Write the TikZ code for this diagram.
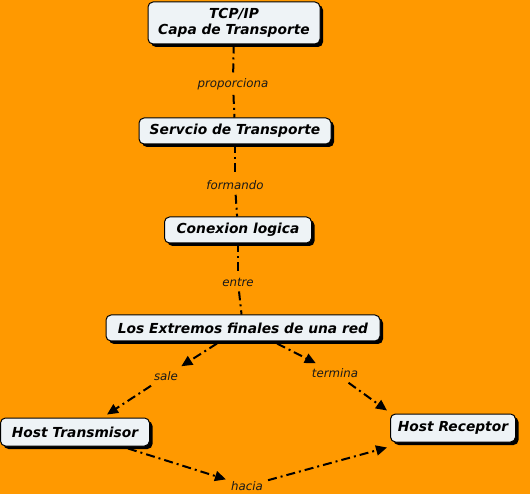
\documentclass[tikz,border=0pt]{standalone}
\usepackage{fontspec}
\setmainfont{DejaVu Sans}[BoldFont=* Bold, ItalicFont=* Oblique, BoldItalicFont=* Bold Oblique]
\usetikzlibrary{arrows.meta,shadows,calc}
\definecolor{bg}{HTML}{FF9900}
\definecolor{boxfill}{HTML}{EEF3F6}
\begin{document}
\begin{tikzpicture}[x=1pt,y=-1pt,
 concept/.style={draw=black, line width=1pt, rounded corners=5pt, fill=boxfill,
   font=\bfseries\itshape\fontsize{13.8}{16}\selectfont, inner sep=0pt, align=center,
   drop shadow={shadow xshift=3pt, shadow yshift=-3pt, fill=black, opacity=1}},
 lbl/.style={font=\itshape\fontsize{11.8}{14}\selectfont, text=black!90, inner sep=5pt},
 link/.style={line width=2pt, dash pattern=on 9pt off 4pt on 2pt off 4pt},
 arr/.style={link, -{Triangle[length=11pt,width=10pt]}}]
\fill[bg] (0,0) rectangle (530,494);
\node[concept, minimum width=172pt, minimum height=42pt] (tcp) at (234,23) {TCP/IP\\Capa de Transporte};
\node[concept, minimum width=192pt, minimum height=26pt] (st) at (235,131) {Servcio de Transporte};
\node[concept, minimum width=147pt, minimum height=26pt] (cl) at (238,230) {Conexion logica};
\node[concept, minimum width=274pt, minimum height=26pt] (le) at (243,328) {Los Extremos finales de una red};
\node[concept, minimum width=149pt, minimum height=28pt] (ht) at (75,432) {Host Transmisor};
\node[concept, minimum width=125pt, minimum height=28pt] (hr) at (453,428) {Host Receptor};
\node[lbl] (p1) at (233,84) {proporciona};
\node[lbl] (p2) at (235,185) {formando};
\node[lbl] (p3) at (238,282) {entre};
\node[lbl] (sale) at (166,376) {sale};
\node[lbl] (term) at (335,373) {termina};
\node[lbl] (hacia) at (247,486) {hacia};
\draw[link] (tcp) -- (p1);
\draw[link] (p1) -- (st);
\draw[link] (st) -- (p2);
\draw[link] (p2) -- (cl);
\draw[link] (cl) -- (p3);
\draw[link] (p3) -- (le);
\draw[arr] ($(le.south)+(-26,2)$) -- (sale);
\draw[arr] (sale) -- ($(ht.north)+(32,-3)$);
\draw[arr] ($(le.south)+(34,2)$) -- (term);
\draw[arr] (term) -- ($(hr.north west)+(-3,-3)$);
\draw[arr] ($(ht.south)+(53,2)$) -- (hacia);
\draw[arr] (hacia) -- ($(hr.south west)+(-3,5)$);
\end{tikzpicture}
\end{document}
